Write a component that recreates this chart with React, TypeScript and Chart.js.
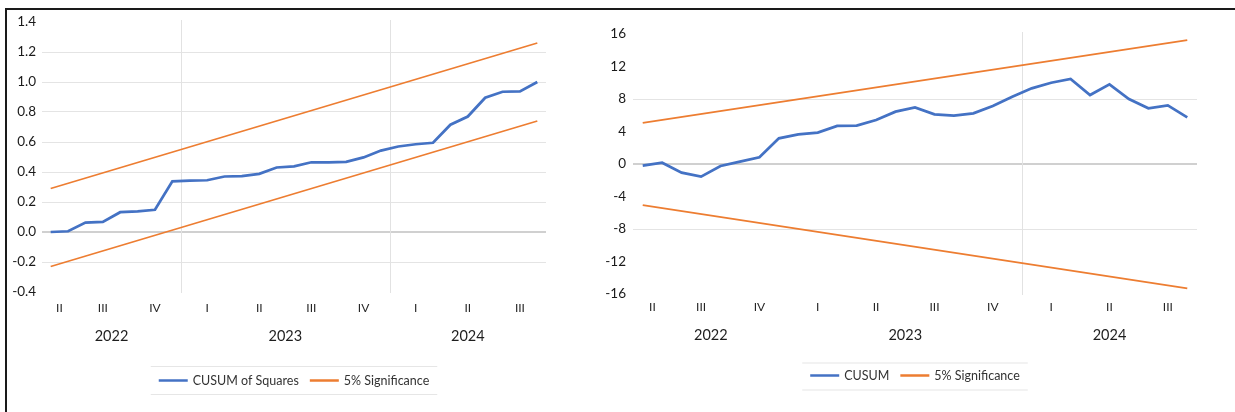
import React, { useEffect, useRef } from "react";
import { Chart, registerables } from "chart.js";

Chart.register(...registerables);

// ---------- data ----------
const months = [
  "2022-05", "2022-06", "2022-07", "2022-08", "2022-09", "2022-10", "2022-11", "2022-12",
  "2023-01", "2023-02", "2023-03", "2023-04", "2023-05", "2023-06", "2023-07", "2023-08",
  "2023-09", "2023-10", "2023-11", "2023-12",
  "2024-01", "2024-02", "2024-03", "2024-04", "2024-05", "2024-06", "2024-07", "2024-08", "2024-09",
];
const quarterNames = ["I", "II", "III", "IV"];

const cusumSquares = [
  0.0, 0.005, 0.063, 0.067, 0.132, 0.137, 0.148, 0.338, 0.343, 0.345,
  0.37, 0.372, 0.388, 0.43, 0.437, 0.465, 0.465, 0.468, 0.497, 0.543,
  0.57, 0.585, 0.595, 0.715, 0.77, 0.895, 0.935, 0.937, 1.0,
];
// straight significance bands: values read at first and last month
const sqUpperEnds = [0.29, 1.26];
const sqLowerEnds = [-0.23, 0.74];

const cusum = [
  -0.2, 0.16, -1.07, -1.56, -0.25, 0.29, 0.82, 3.16, 3.65, 3.86,
  4.68, 4.72, 5.42, 6.44, 6.97, 6.11, 5.95, 6.24, 7.14, 8.29,
  9.31, 10.0, 10.46, 8.49, 9.8, 8.0, 6.85, 7.22, 5.74,
];
const cuUpperEnds = [5.05, 15.25];
const cuLowerEnds = [-5.05, -15.3];

const BLUE = "#4472C4";
const ORANGE = "#ED7D31";
const FONT = "Lato, 'Open Sans', sans-serif";

const endsToPoints = (ends: number[]) => [
  { x: months[0], y: ends[0] },
  { x: months[months.length - 1], y: ends[1] },
];

// ---------- plugin: quarter / year labels, separators, legend ----------
const excelPlugin = {
  id: "excelAxis",
  beforeDatasetsDraw(chart: any, _a: any, opts: any) {
    const { ctx, chartArea } = chart;
    const x = chart.scales.x;
    ctx.save();
    ctx.strokeStyle = "#E2E2E2";
    ctx.lineWidth = 1;
    for (const idx of opts.separators) {
      const px = (x.getPixelForValue(idx - 1) + x.getPixelForValue(idx)) / 2;
      const rx = Math.round(px) + 0.5;
      ctx.beginPath();
      ctx.moveTo(rx, chartArea.top - 2);
      ctx.lineTo(rx, chartArea.bottom + 1);
      ctx.stroke();
    }
    ctx.restore();
  },
  afterDraw(chart: any, _a: any, opts: any) {
    const { ctx, chartArea } = chart;
    const x = chart.scales.x;
    const labels: string[] = chart.data.labels;
    const qGroups: { key: string; name: string; first: number; last: number }[] = [];
    const yGroups: { key: string; first: number; last: number }[] = [];
    labels.forEach((lab, i) => {
      const [yy, mm] = lab.split("-");
      const q = Math.floor((parseInt(mm, 10) - 1) / 3);
      const qk = yy + "Q" + q;
      const lq = qGroups[qGroups.length - 1];
      if (lq && lq.key === qk) lq.last = i;
      else qGroups.push({ key: qk, name: quarterNames[q], first: i, last: i });
      const ly = yGroups[yGroups.length - 1];
      if (ly && ly.key === yy) ly.last = i;
      else yGroups.push({ key: yy, first: i, last: i });
    });
    ctx.save();
    ctx.textAlign = "center";
    ctx.textBaseline = "middle";
    ctx.fillStyle = "#262626";
    ctx.font = `12px ${FONT}`;
    for (const g of qGroups) {
      const cx = (x.getPixelForValue(g.first) + x.getPixelForValue(g.last)) / 2;
      ctx.fillText(g.name, cx, opts.quarterY);
    }
    ctx.fillStyle = "#1E1E1E";
    ctx.font = `14.5px ${FONT}`;
    for (const g of yGroups) {
      const cx = (x.getPixelForValue(g.first) + x.getPixelForValue(g.last)) / 2;
      ctx.fillText(g.key, cx, opts.yearY);
    }

    // legend
    const seen = new Set<string>();
    const items: { label: string; color: string }[] = [];
    for (const ds of chart.data.datasets) {
      if (seen.has(ds.label)) continue;
      seen.add(ds.label);
      items.push({ label: ds.label, color: ds.borderColor });
    }
    ctx.font = `12.5px ${FONT}`;
    const sampleW = 29, gap1 = 5, itemGap = 11, pad = 8;
    const widths = items.map((it) => sampleW + gap1 + ctx.measureText(it.label).width);
    const total = widths.reduce((a, b) => a + b, 0) + itemGap * (items.length - 1);
    const cxLeg = (chartArea.left + chartArea.right) / 2;
    let sx = cxLeg - total / 2;
    ctx.strokeStyle = "#E6E6E6";
    ctx.lineWidth = 1.2;
    for (const by of [opts.legendTop, opts.legendBottom]) {
      ctx.beginPath();
      ctx.moveTo(sx - pad, by);
      ctx.lineTo(sx + total + pad, by);
      ctx.stroke();
    }
    ctx.textAlign = "left";
    ctx.fillStyle = "#333333";
    items.forEach((it, i) => {
      ctx.strokeStyle = it.color;
      ctx.lineWidth = 2.5;
      ctx.beginPath();
      ctx.moveTo(sx, opts.legendY);
      ctx.lineTo(sx + sampleW, opts.legendY);
      ctx.stroke();
      ctx.fillText(it.label, sx + sampleW + gap1, opts.legendY);
      sx += widths[i] + itemGap;
    });
    ctx.restore();
  },
};

type PanelProps = {
  left: number;
  width: number;
  data: number[];
  label: string;
  upper: number[];
  lower: number[];
  min: number;
  max: number;
  step: number;
  decimals: number;
  gridAt: (v: number) => "zero" | "grid" | "none";
  yWidth: number;
  pad: { top: number; right: number; bottom: number };
  separators: number[];
  quarterY: number;
  yearY: number;
  legendY: number;
  legendTop: number;
  legendBottom: number;
  labelPad: number;
};

const near = (a: number, b: number) => Math.abs(a - b) < 1e-6;

function Panel(p: PanelProps) {
  const ref = useRef<HTMLCanvasElement>(null);
  useEffect(() => {
    if (!ref.current) return;
    const chart = new Chart(ref.current, {
      type: "line",
      data: {
        labels: months,
        datasets: [
          {
            label: p.label,
            data: p.data,
            borderColor: BLUE,
            backgroundColor: BLUE,
            borderWidth: 2.75,
            pointRadius: 0,
            tension: 0,
          },
          {
            label: "5% Significance",
            data: endsToPoints(p.upper) as any,
            borderColor: ORANGE,
            backgroundColor: ORANGE,
            borderWidth: 1.75,
            pointRadius: 0,
            tension: 0,
          },
          {
            label: "5% Significance",
            data: endsToPoints(p.lower) as any,
            borderColor: ORANGE,
            backgroundColor: ORANGE,
            borderWidth: 1.75,
            pointRadius: 0,
            tension: 0,
          },
        ],
      },
      options: {
        responsive: false,
        animation: false,
        events: [],
        layout: { padding: { top: p.pad.top, right: p.pad.right, bottom: p.pad.bottom, left: 0 } },
        plugins: {
          legend: { display: false },
          tooltip: { enabled: false },
          excelAxis: {
            separators: p.separators,
            quarterY: p.quarterY,
            yearY: p.yearY,
            legendY: p.legendY,
            legendTop: p.legendTop,
            legendBottom: p.legendBottom,
          },
        } as any,
        scales: {
          x: { type: "category", display: false, offset: true },
          y: {
            min: p.min,
            max: p.max,
            border: { display: false },
            afterFit: (s: any) => {
              s.width = p.yWidth;
            },
            grid: {
              drawTicks: false,
              color: (c: any) => {
                const k = p.gridAt(c.tick.value);
                return k === "zero" ? "#D0D0D0" : k === "grid" ? "#E4E4E4" : "rgba(0,0,0,0)";
              },
              lineWidth: (c: any) => (p.gridAt(c.tick.value) === "zero" ? 2 : 1),
            },
            ticks: {
              stepSize: p.step,
              padding: p.labelPad,
              color: "#1A1A1A",
              font: { family: FONT, size: 13.5 },
              callback: (v: any) => (near(Number(v), 0) ? 0 : Number(v)).toFixed(p.decimals),
            },
          },
        },
      },
      plugins: [excelPlugin as any],
    });
    return () => chart.destroy();
  }, []);
  return (
    <canvas
      ref={ref}
      width={p.width}
      height={412}
      style={{ position: "absolute", left: p.left, top: 0, width: p.width, height: 412 }}
    />
  );
}

export default function App() {
  return (
    <div
      style={{
        position: "fixed",
        left: 0,
        top: 0,
        width: 1235,
        height: 412,
        background: "#fff",
        overflow: "hidden",
      }}
    >
      <Panel
        left={0}
        width={600}
        data={cusumSquares}
        label="CUSUM of Squares"
        upper={sqUpperEnds}
        lower={sqLowerEnds}
        min={-0.4}
        max={1.4}
        step={0.2}
        decimals={1}
        gridAt={(v) => (near(v, 0) ? "zero" : near(v, 1.4) || near(v, -0.4) ? "none" : "grid")}
        yWidth={42}
        pad={{ top: 22, right: 54, bottom: 120 }}
        separators={[8, 20]}
        quarterY={308}
        yearY={336}
        legendY={380.5}
        legendTop={366.5}
        legendBottom={394.5}
        labelPad={6}
      />
      <Panel
        left={600}
        width={635}
        data={cusum}
        label="CUSUM"
        upper={cuUpperEnds}
        lower={cuLowerEnds}
        min={-16}
        max={16}
        step={4}
        decimals={0}
        gridAt={(v) => (near(v, 0) ? "zero" : near(Math.abs(v), 8) ? "grid" : "none")}
        yWidth={33}
        pad={{ top: 34, right: 38, bottom: 118 }}
        separators={[20]}
        quarterY={307}
        yearY={335}
        legendY={375.5}
        legendTop={363}
        legendBottom={390}
        labelPad={7}
      />
      <div style={{ position: "absolute", left: 5, top: 8, width: 1230, height: 2, background: "#1A1A1A" }} />
      <div style={{ position: "absolute", left: 5, top: 8, width: 2, height: 404, background: "#1A1A1A" }} />
    </div>
  );
}
